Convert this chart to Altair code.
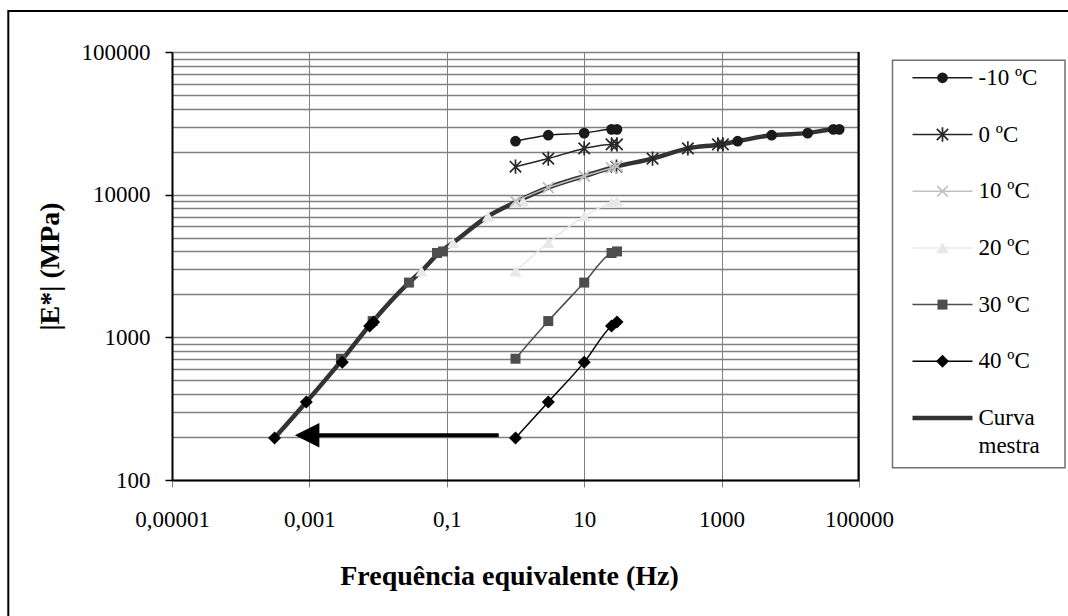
import altair as alt
import pandas as pd
import numpy as np

# ---------------- data ----------------
temps = ["-10 \u00baC", "0 \u00baC", "10 \u00baC", "20 \u00baC", "30 \u00baC", "40 \u00baC"]
freq_test = [1, 3, 10, 25, 30]

E_m10 = [23700, 26100, 27000, 28700, 28700]
E_0 = [15700, 17900, 21100, 22500, 22500]
E_10 = [9000, 11200, 13500, 15400, 15800]
E_20 = [2910, 4600, 7060, 8770, 9000]
E_30 = [708, 1300, 2420, 3900, 4000]
E_40 = [197, 352, 670, 1200, 1280]

# equivalent (shifted) frequencies
fr_m10 = [1710, 5350, 17900, 42300, 51600]
fr_0 = [29.5, 98.9, 323, 883, 1045]
fr_10 = [1, 3, 10, 25, 30]
fr_20 = [0.0427, 0.123, 0.398, 1.03, 1.29]
fr_30 = [0.00288, 0.00834, 0.0281, 0.0720, 0.0881]
fr_40 = [0.000311, 0.000902, 0.00301, 0.00753, 0.00861]

master_freq = [0.000311, 0.000902, 0.00295, 0.0079, 0.0281, 0.0427, 0.079, 0.123,
               0.398, 1.02, 3, 10, 27, 98.9, 323, 960, 1710, 5350, 17900, 42300, 51600]
master_E = [197, 352, 690, 1250, 2420, 2910, 3950, 4600,
            7060, 8900, 11200, 13500, 15600, 17900, 21100, 22500, 23700, 26100, 27000, 28700, 28800]

arrow_freq_tail = 0.57
arrow_freq_head = 0.000927
arrow_E = 206

x_tick_values = [1e-5, 1e-3, 0.1, 10, 1000, 1e5]
x_tick_labels = ["0,00001", "0,001", "0,1", "10", "1000", "100000"]
y_major_values = [100, 1000, 10000, 100000]
y_major_labels = ["100", "1000", "10000", "100000"]
y_grid_values = [m * 10 ** k for k in range(2, 5) for m in range(1, 10)] + [100000]

legend_labels = temps + ["Curva", "mestra"]
legend_rows = [0, 1, 2, 3, 4, 5, 6, 6.5]

E_all = [E_m10, E_0, E_10, E_20, E_30, E_40]
fr_all = [fr_m10, fr_0, fr_10, fr_20, fr_30, fr_40]

# ---------------- styles ----------------
FONT = "Liberation Serif"
STAR = "M-1,-1L1,1M-1,1L1,-1M0,-1.25L0,1.25"
XMARK = "M-1,-1L1,1M-1,1L1,-1"
styles = [
    dict(color="#1a1a1a", shape="circle", filled=True, size=115, lw=1.5),
    dict(color="#262626", shape=STAR, filled=False, size=130, lw=1.7),
    dict(color="#c0c0c0", shape=XMARK, filled=False, size=115, lw=1.6),
    dict(color="#e8e8e8", shape="triangle-up", filled=True, size=150, lw=1.5),
    dict(color="#4d4d4d", shape="square", filled=True, size=100, lw=1.5),
    dict(color="#000000", shape="diamond", filled=True, size=170, lw=1.5),
]
W, H = 687, 428


def label_expr(vals, labs):
    e = "''"
    for v, l in zip(vals[::-1], labs[::-1]):
        e = f"abs(log(datum.value)/LN10 - ({np.log10(v):.6f})) < 0.01 ? '{l}' : ({e})"
    return e


major_test = "abs(log(datum.value)/LN10 - round(log(datum.value)/LN10)) < 0.001"

X_ENC = alt.X(
    "f:Q",
    scale=alt.Scale(type="log", domain=[1e-5, 1e5], nice=False),
    axis=alt.Axis(
        values=x_tick_values, labelExpr=label_expr(x_tick_values, x_tick_labels),
        title="Frequ\u00eancia equivalente (Hz)", titleFont=FONT, titleFontSize=28,
        titleFontWeight="bold", titleColor="black", titleX=337, titleY=96,
        titleBaseline="middle", titleAlign="center",
        labelFont=FONT, labelFontSize=23, labelColor="black", labelPadding=21,
        labelOverlap=False, labelFlush=False,
        domainColor="black", domainWidth=2, tickColor="#808080", tickWidth=1, tickSize=7,
        grid=True, gridColor="#808080", gridWidth=1,
    ),
)
Y_ENC = alt.Y(
    "E:Q",
    scale=alt.Scale(type="log", domain=[100, 100000], nice=False),
    axis=alt.Axis(
        values=y_grid_values, labelExpr=label_expr(y_major_values, y_major_labels),
        title="|E*| (MPa)", titleFont=FONT, titleFontSize=28, titleFontWeight="bold",
        titleColor="black", titleX=-122, titleY=214, titleBaseline="middle",
        titleAlign="center", titleAngle=270,
        labelFont=FONT, labelFontSize=23, labelColor="black", labelPadding=15,
        labelOverlap=False, labelFlush=False,
        domainColor="black", domainWidth=2, tickColor="black", tickWidth=1.5, tickSize=7,
        tickOpacity={"condition": {"test": major_test, "value": 1}, "value": 0},
        grid=True, gridColor="#808080", gridWidth=1.5,
    ),
)

# ---------------- main layers ----------------
master_df = pd.DataFrame({"f": master_freq, "E": master_E})
main_layers = [
    alt.Chart(master_df).mark_line(color="#333333", strokeWidth=4.5, interpolate="monotone")
    .encode(x=X_ENC, y=Y_ENC, order=alt.Order("f:Q"))
]

for i, st in enumerate(styles):
    sh = pd.DataFrame({"f": fr_all[i], "E": E_all[i]})
    main_layers.append(
        alt.Chart(sh).mark_point(shape=st["shape"], filled=st["filled"], size=st["size"],
                                 color=st["color"], strokeWidth=st["lw"], opacity=1)
        .encode(x=X_ENC, y=Y_ENC)
    )

for i, st in enumerate(styles):
    od = pd.DataFrame({"f": freq_test, "E": E_all[i]})
    main_layers.append(
        alt.Chart(od).mark_line(color=st["color"], strokeWidth=1.5, interpolate="monotone")
        .encode(x=X_ENC, y=Y_ENC, order=alt.Order("f:Q"))
    )
    main_layers.append(
        alt.Chart(od).mark_point(shape=st["shape"], filled=st["filled"], size=st["size"],
                                 color=st["color"], strokeWidth=st["lw"], opacity=1)
        .encode(x=X_ENC, y=Y_ENC)
    )

arrow_df = pd.DataFrame({"f": [arrow_freq_tail], "f2": [arrow_freq_head], "E": [arrow_E]})
main_layers.append(
    alt.Chart(arrow_df).mark_rule(color="black", strokeWidth=4, strokeCap="butt")
    .encode(x=X_ENC, x2="f2:Q", y=Y_ENC)
)
head_df = pd.DataFrame({"f": [arrow_freq_head], "E": [arrow_E]})
main_layers.append(
    alt.Chart(head_df).mark_point(shape="M-1,0L1,-1L1,1Z", filled=True, size=600,
                                  color="black", opacity=1)
    .encode(x=X_ENC, y=Y_ENC)
)

main = alt.layer(*main_layers)

# ---------------- legend & frames ----------------
LX = alt.Scale(domain=[0, 1], range=[740.5, 800.5], nice=False, zero=False)
LY = alt.Scale(domain=[0, 6], range=[25.8, 366], nice=False, zero=False)
one = alt.Data(values=[{}])

leg_layers = []
# outer border (top/left visible; right/bottom cropped)
leg_layers.append(
    alt.Chart(one).mark_rect(fill=None, stroke="black", strokeWidth=2).encode(
        x=alt.value(-163.7), y=alt.value(-41), x2=alt.value(920), y2=alt.value(600))
)
# plot area right border
leg_layers.append(
    alt.Chart(one).mark_rule(color="black", strokeWidth=2).encode(
        x=alt.value(W - 0.5), y=alt.value(0), y2=alt.value(H))
)
# legend box
leg_layers.append(
    alt.Chart(one).mark_rect(fill="white", stroke="#707070", strokeWidth=1.5).encode(
        x=alt.value(720.5), y=alt.value(8.2), x2=alt.value(893), y2=alt.value(415.8))
)
for i, st in enumerate(styles):
    ld = pd.DataFrame({"lx": [0.0], "lx2": [1.0], "row": [i]})
    leg_layers.append(
        alt.Chart(ld).mark_rule(color=st["color"], strokeWidth=1.5)
        .encode(x=alt.X("lx:Q", scale=LX, axis=None), x2="lx2:Q",
                y=alt.Y("row:Q", scale=LY, axis=None))
    )
    md = pd.DataFrame({"lx": [0.5], "row": [i]})
    leg_layers.append(
        alt.Chart(md).mark_point(shape=st["shape"], filled=st["filled"], size=st["size"],
                                 color=st["color"], strokeWidth=st["lw"], opacity=1)
        .encode(x=alt.X("lx:Q", scale=LX, axis=None), y=alt.Y("row:Q", scale=LY, axis=None))
    )
mdl = pd.DataFrame({"lx": [0.0], "lx2": [1.0], "row": [6]})
leg_layers.append(
    alt.Chart(mdl).mark_rule(color="#333333", strokeWidth=4.5)
    .encode(x=alt.X("lx:Q", scale=LX, axis=None), x2="lx2:Q",
            y=alt.Y("row:Q", scale=LY, axis=None))
)
td = pd.DataFrame({"label": legend_labels, "row": legend_rows, "lx": [1.1] * len(legend_rows)})
leg_layers.append(
    alt.Chart(td).mark_text(align="left", baseline="middle", font=FONT, fontSize=23, color="black")
    .encode(x=alt.X("lx:Q", scale=LX, axis=None), y=alt.Y("row:Q", scale=LY, axis=None),
            text="label:N")
)
legend = alt.layer(*leg_layers)

chart = (
    alt.layer(main, legend)
    .resolve_scale(x="independent", y="independent")
    .properties(width=W, height=H, padding={"left": 172, "top": 52, "right": 209, "bottom": 136},
                autosize=alt.AutoSizeParams(type="none"), background="white")
    .configure_view(stroke=None)
    .configure(font=FONT)
)

chart.save("out.html", embed_options={"renderer": "svg", "actions": False})
